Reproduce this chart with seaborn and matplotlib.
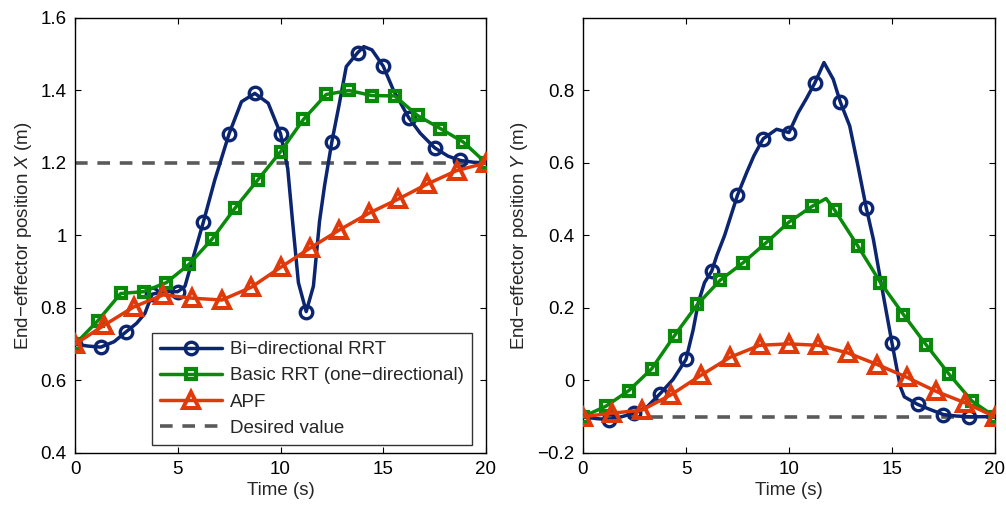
import numpy as np
import matplotlib
matplotlib.use("Agg")
import matplotlib.pyplot as plt
import seaborn as sns
from matplotlib.ticker import FuncFormatter
from matplotlib.lines import Line2D

# ---------------- data ----------------
# Bi-directional RRT (markers every 1.25 s)
bi_t_x = [0, 0.625, 1.25, 1.9, 2.5, 3.0, 3.4, 3.75, 4.3, 5.0, 5.35, 5.6, 6.25, 6.8, 7.5,
          8.1, 8.75, 9.4, 10.0, 10.35, 10.6, 10.87, 11.25, 11.6, 11.9, 12.15, 12.5, 12.85,
          13.2, 13.75, 14.05, 14.45, 15.0, 15.5, 16.25, 16.8, 17.5, 18.15, 18.75, 19.4, 20]
bi_x = [0.700, 0.695, 0.692, 0.707, 0.735, 0.758, 0.785, 0.838, 0.845, 0.845, 0.860, 0.910,
        1.038, 1.153, 1.281, 1.369, 1.392, 1.365, 1.281, 1.185, 1.030, 0.870, 0.790, 0.860,
        1.040, 1.140, 1.259, 1.360, 1.466, 1.504, 1.521, 1.512, 1.467, 1.400, 1.324, 1.282,
        1.242, 1.219, 1.207, 1.202, 1.200]

bi_t_y = [0, 0.625, 1.25, 1.875, 2.5, 3.125, 3.75, 4.375, 5.0, 5.35, 5.6, 5.9, 6.25, 6.5,
          6.875, 7.5, 7.95, 8.3, 8.75, 9.4, 10.0, 10.45, 10.85, 11.25, 11.7, 12.15, 12.5,
          12.95, 13.35, 13.75, 14.1, 14.5, 15.0, 15.4, 15.6, 16.25, 16.85, 17.5, 18.125,
          18.75, 19.375, 20]
bi_y = [-0.100, -0.105, -0.108, -0.100, -0.090, -0.072, -0.036, 0.003, 0.058, 0.140, 0.215,
        0.270, 0.302, 0.345, 0.400, 0.511, 0.574, 0.620, 0.667, 0.693, 0.684, 0.739, 0.778,
        0.820, 0.877, 0.831, 0.767, 0.702, 0.592, 0.477, 0.389, 0.260, 0.104, -0.016,
        -0.045, -0.066, -0.080, -0.094, -0.098, -0.100, -0.100, -0.100]

# Basic RRT (one-directional), markers every 20/18 s
basic_t_x = [0, 1.111, 2.222, 3.333, 4.444, 5.556, 6.667, 7.778, 8.889, 10.0, 11.111,
             12.222, 13.333, 14.444, 15.556, 16.667, 17.778, 18.889, 20]
basic_x = [0.700, 0.765, 0.840, 0.845, 0.870, 0.921, 0.990, 1.075, 1.153, 1.231, 1.320,
           1.389, 1.400, 1.386, 1.385, 1.331, 1.295, 1.258, 1.200]

basic_t_y = [0, 1.111, 2.222, 3.333, 4.444, 5.556, 6.667, 7.778, 8.889, 10.0, 11.111, 11.8,
             12.222, 13.333, 14.444, 15.556, 16.667, 17.778, 18.889, 20]
basic_y = [-0.100, -0.071, -0.028, 0.032, 0.124, 0.210, 0.277, 0.325, 0.380, 0.437, 0.480,
           0.502, 0.470, 0.372, 0.270, 0.182, 0.098, 0.017, -0.057, -0.100]

# Artificial potential field, markers every 20/14 s
apf_t = [0, 1.429, 2.857, 4.286, 5.714, 7.143, 8.571, 10.0, 11.429, 12.857, 14.286,
         15.714, 17.143, 18.571, 20]
apf_x = [0.700, 0.753, 0.803, 0.836, 0.827, 0.822, 0.857, 0.912, 0.965, 1.015, 1.061,
         1.100, 1.142, 1.179, 1.200]
apf_y = [-0.100, -0.090, -0.082, -0.039, 0.014, 0.064, 0.097, 0.101, 0.097, 0.076, 0.044,
         0.009, -0.030, -0.062, -0.100]

desired_x = 1.2
desired_y = -0.1

series_names = ["Bi\u2212directional RRT", "Basic RRT (one\u2212directional)", "APF",
                "Desired value"]
x_ticks = [0, 5, 10, 15, 20]
ticks_left_y = [0.4, 0.6, 0.8, 1.0, 1.2, 1.4, 1.6]
ticks_right_y = [-0.2, 0, 0.2, 0.4, 0.6, 0.8]

# ---------------- style ----------------
sns.set_theme(style="ticks")
plt.rcParams["font.family"] = ["Liberation Sans", "DejaVu Sans"]
plt.rcParams["mathtext.fontset"] = "custom"
plt.rcParams["mathtext.rm"] = "Liberation Sans"
plt.rcParams["mathtext.it"] = "Liberation Sans:italic"
plt.rcParams["axes.unicode_minus"] = True

FS = 13.5
C_BI = "#0b2570"
C_BASIC = "#0a8a0a"
C_APF = "#e03a0a"
C_DES = "#5a5a5a"
LW = 2.5

BI_STYLE = dict(marker="o", ms=9, mfc="none", mec=C_BI, mew=2.4)
BASIC_STYLE = dict(marker="s", ms=7.5, mfc="none", mec=C_BASIC, mew=3.0)
APF_STYLE = dict(marker="^", ms=11, mfc="none", mec=C_APF, mew=2.9)
DES_STYLE = dict(lw=2.6, linestyle=(0, (3.5, 2.7)))

fig = plt.figure(figsize=(10.06, 5.05), dpi=100)
ax1 = fig.add_axes([0.0746, 0.103, 0.4085, 0.8614])
ax2 = fig.add_axes([0.5795, 0.103, 0.4095, 0.8614])


def marker_idx(t, step):
    q = np.asarray(t, dtype=float) / step
    return [int(i) for i in np.where(np.isclose(q, np.round(q), atol=2e-3))[0]]


def fmt(v, _pos):
    s = "%g" % round(v, 3)
    return s.replace("-", "\u2212")


def draw(ax, bt, bv, st, sv, at, av, desired):
    sns.lineplot(x=bt, y=bv, ax=ax, color=C_BI, lw=LW, markevery=marker_idx(bt, 1.25),
                 sort=False, zorder=3, **BI_STYLE)
    sns.lineplot(x=st, y=sv, ax=ax, color=C_BASIC, lw=LW,
                 markevery=marker_idx(st, 20 / 18), sort=False, zorder=3, **BASIC_STYLE)
    sns.lineplot(x=at, y=av, ax=ax, color=C_APF, lw=LW,
                 markevery=marker_idx(at, 20 / 14), sort=False, zorder=3, **APF_STYLE)
    sns.lineplot(x=[0, 20], y=[desired, desired], ax=ax, color=C_DES, sort=False,
                 zorder=2, **DES_STYLE)
    ax.set_xlim(0, 20)
    ax.set_xticks(x_ticks)
    ax.xaxis.set_major_formatter(FuncFormatter(fmt))
    ax.yaxis.set_major_formatter(FuncFormatter(fmt))
    ax.tick_params(direction="in", length=4, width=0.8, top=True, right=True,
                   labelsize=FS, colors="black", pad=6)
    for sp in ax.spines.values():
        sp.set_visible(True)
        sp.set_linewidth(1.0)
        sp.set_color("black")
    ax.set_xlabel("Time (s)", fontsize=FS, labelpad=3)
    ax.set_facecolor("white")


draw(ax1, bi_t_x, bi_x, basic_t_x, basic_x, apf_t, apf_x, desired_x)
ax1.set_ylim(0.4, 1.6)
ax1.set_yticks(ticks_left_y)
ax1.set_ylabel("End\u2212effector position $X$ (m)", fontsize=FS, labelpad=5)

draw(ax2, bi_t_y, bi_y, basic_t_y, basic_y, apf_t, apf_y, desired_y)
ax2.set_ylim(-0.2, 1.0)
ax2.set_yticks(ticks_right_y)
ax2.set_ylabel("End\u2212effector position $Y$ (m)", fontsize=FS, labelpad=5)

handles = [
    Line2D([], [], color=C_BI, lw=LW, **BI_STYLE),
    Line2D([], [], color=C_BASIC, lw=LW, **BASIC_STYLE),
    Line2D([], [], color=C_APF, lw=LW, **APF_STYLE),
    Line2D([], [], color=C_DES, **DES_STYLE),
]
for ax in (ax1, ax2):
    lg = ax.get_legend()
    if lg is not None:
        lg.remove()
leg = ax1.legend(handles, series_names, loc="lower right", bbox_to_anchor=(0.966, 0.018),
                 borderaxespad=0, fontsize=FS, frameon=True, fancybox=False,
                 edgecolor="black", handlelength=3.3, labelspacing=0.48,
                 borderpad=0.45, handletextpad=0.4)
leg.get_frame().set_linewidth(1.0)
leg.set_zorder(10)

fig.savefig("out.png", dpi=100, facecolor="white")
